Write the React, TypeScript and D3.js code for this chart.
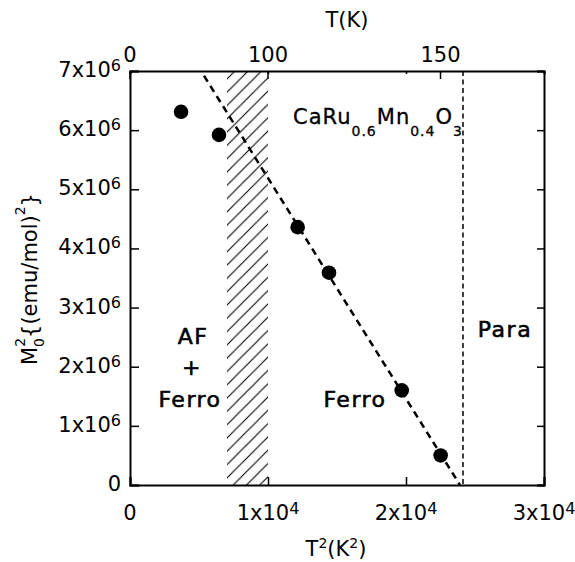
import * as d3 from "d3";
import { useEffect, useRef } from "react";

// M0^2 vs T^2 data points
const t2Values = [3700, 6450, 12150, 14420, 19690, 22510];
const m2Values = [6.31e6, 5.92e6, 4.36e6, 3.59e6, 1.6e6, 0.5e6];
// dashed fit line ends
const fitT2 = [5360, 23910];
const fitM2 = [6.92e6, 0];
// hatched AF+Ferro region and Tc line
const hatchT2 = [7030, 10000];
const paraT2 = 24130;

const xTicks = [0, 1e4, 2e4, 3e4];
const xTickLabels = ["0", "1x10^4", "2x10^4", "3x10^4"];
const yTicks = [0, 1e6, 2e6, 3e6, 4e6, 5e6, 6e6, 7e6];
const yTickLabels = ["0", "1x10^6", "2x10^6", "3x10^6", "4x10^6", "5x10^6", "6x10^6", "7x10^6"];
const tTicks = [0, 100, 150];
const tTickLabels = ["0", "100", "150"];

const FONT = "DejaVu Sans";

function supText(sel: d3.Selection<SVGTextElement, unknown, null, undefined>, str: string) {
  const [base, sup] = str.split("^");
  sel.append("tspan").text(base);
  if (sup) sel.append("tspan").attr("font-size", 16).attr("dy", -6).text(sup);
}

export default function App() {
  const svgRef = useRef<SVGSVGElement>(null);

  useEffect(() => {
    if (!svgRef.current) return;
    const svg = d3.select(svgRef.current);
    svg.selectAll("*").remove();

    const width = 575;
    const height = 562;
    const margin = { top: 71, right: 31, bottom: 77, left: 130 };
    const x = d3.scaleLinear().domain([0, 3e4]).range([margin.left, width - margin.right]);
    const y = d3.scaleLinear().domain([0, 7e6]).range([height - margin.bottom, margin.top]);
    const x0 = margin.left;
    const x1 = width - margin.right;
    const y0 = height - margin.bottom;
    const y1 = margin.top;

    // hatch pattern
    const w = 13.3;
    svg
      .append("defs")
      .append("pattern")
      .attr("id", "hatch")
      .attr("patternUnits", "userSpaceOnUse")
      .attr("width", w)
      .attr("height", w)
      .append("path")
      .attr("d", `M-2,2 L2,-2 M0,${w} L${w},0 M${w - 2},${w + 2} L${w + 2},${w - 2}`)
      .attr("stroke", "#000")
      .attr("stroke-width", 1.1);

    svg
      .append("rect")
      .attr("x", x(hatchT2[0]))
      .attr("y", y1)
      .attr("width", x(hatchT2[1]) - x(hatchT2[0]))
      .attr("height", y0 - y1)
      .attr("fill", "url(#hatch)");

    // Para boundary
    svg
      .append("line")
      .attr("x1", x(paraT2))
      .attr("x2", x(paraT2))
      .attr("y1", y1)
      .attr("y2", y0)
      .attr("stroke", "#000")
      .attr("stroke-width", 1.5)
      .attr("stroke-dasharray", "5,3.5");

    // fit line
    const line = d3
      .line<number>()
      .x((d) => x(fitT2[d]))
      .y((d) => y(fitM2[d]));
    svg
      .append("path")
      .attr("d", line([0, 1]))
      .attr("fill", "none")
      .attr("stroke", "#000")
      .attr("stroke-width", 2.5)
      .attr("stroke-dasharray", "7,5");

    // points
    svg
      .selectAll(".pt")
      .data(t2Values)
      .enter()
      .append("circle")
      .attr("cx", (d) => x(d))
      .attr("cy", (d, i) => y(m2Values[i]))
      .attr("r", 7.3)
      .attr("fill", "#000");

    // axes
    const axisG = svg.append("g").attr("font-family", FONT);
    const left = axisG
      .append("g")
      .attr("transform", `translate(${x0},0)`)
      .call(d3.axisLeft(y).tickValues(yTicks).tickSize(-9).tickFormat(() => ""));
    const right = axisG
      .append("g")
      .attr("transform", `translate(${x1},0)`)
      .call(d3.axisRight(y).tickValues(yTicks).tickSize(-7).tickFormat(() => ""));
    const bottom = axisG
      .append("g")
      .attr("transform", `translate(0,${y0})`)
      .call(d3.axisBottom(x).tickValues(xTicks).tickSize(-8).tickFormat(() => ""));
    const topMirror = axisG
      .append("g")
      .attr("transform", `translate(0,${y1})`)
      .call(d3.axisTop(x).tickValues(xTicks).tickSize(-3).tickFormat(() => ""));
    const tScale = (t: number) => x(t * t);
    const top = axisG.append("g").attr("transform", `translate(0,${y1})`);
    top
      .selectAll("line")
      .data(tTicks)
      .enter()
      .append("line")
      .attr("x1", (d) => tScale(d))
      .attr("x2", (d) => tScale(d))
      .attr("y1", 0)
      .attr("y2", 8)
      .attr("stroke", "#000")
      .attr("stroke-width", 1.5);

    [left, right, bottom, topMirror].forEach((g) => {
      g.select(".domain").attr("stroke-width", 2).attr("stroke", "#000");
      g.selectAll(".tick line").attr("stroke-width", 1.5);
      g.selectAll(".tick text").remove();
    });

    // tick labels
    yTicks.forEach((v, i) => {
      const t = axisG
        .append("text")
        .attr("x", x0 - 9)
        .attr("y", y(v) + 6)
        .attr("text-anchor", "end")
        .attr("font-size", 21);
      supText(t, yTickLabels[i]);
    });
    xTicks.forEach((v, i) => {
      const t = axisG
        .append("text")
        .attr("x", x(v))
        .attr("y", y0 + 35)
        .attr("text-anchor", "middle")
        .attr("font-size", 21);
      supText(t, xTickLabels[i]);
    });
    tTicks.forEach((v, i) => {
      axisG
        .append("text")
        .attr("x", tScale(v))
        .attr("y", y1 - 9)
        .attr("text-anchor", "middle")
        .attr("font-size", 21)
        .text(tTickLabels[i]);
    });

    // axis titles
    axisG
      .append("text")
      .attr("x", 347)
      .attr("y", 27)
      .attr("text-anchor", "middle")
      .attr("font-size", 21)
      .text("T(K)");

    const xt = axisG
      .append("text")
      .attr("x", 336)
      .attr("y", 556)
      .attr("text-anchor", "middle")
      .attr("font-size", 21);
    xt.append("tspan").text("T");
    xt.append("tspan").attr("font-size", 14).attr("dy", -8).text("2");
    xt.append("tspan").attr("dy", 8).text("(K");
    xt.append("tspan").attr("font-size", 14).attr("dy", -8).text("2");
    xt.append("tspan").attr("dy", 8).text(")");

    const yt = axisG
      .append("text")
      .attr("transform", "translate(37,279) rotate(-90)")
      .attr("text-anchor", "middle")
      .attr("font-size", 21);
    yt.append("tspan").text("M");
    yt.append("tspan").attr("font-size", 14).attr("dy", 7).text("0");
    yt.append("tspan").attr("font-size", 14).attr("dx", -8.9).attr("dy", -19).text("2");
    yt.append("tspan").attr("dy", 12).text("{(emu/mol)");
    yt.append("tspan").attr("font-size", 14).attr("dy", -12).text("2");
    yt.append("tspan").attr("dy", 12).text("}");

    // annotations (slightly heavier than tick labels)
    const note = svg
      .append("g")
      .attr("font-family", FONT)
      .attr("font-size", 22)
      .attr("letter-spacing", 1.5)
      .attr("stroke", "#000")
      .attr("stroke-width", 0.6);
    note.append("text").attr("x", 193).attr("y", 344).attr("text-anchor", "middle").text("AF");
    note.append("text").attr("x", 192).attr("y", 375).attr("text-anchor", "middle").text("+");
    note.append("text").attr("x", 190).attr("y", 407).attr("text-anchor", "middle").text("Ferro");
    note.append("text").attr("x", 355).attr("y", 407).attr("text-anchor", "middle").text("Ferro");
    note.append("text").attr("x", 505).attr("y", 337).attr("text-anchor", "middle").text("Para");

    const f = svg
      .append("text")
      .attr("x", 293)
      .attr("y", 124)
      .attr("font-family", FONT)
      .attr("font-size", 21)
      .attr("letter-spacing", 1)
      .attr("stroke", "#000")
      .attr("stroke-width", 0.3);
    f.append("tspan").text("CaRu");
    f.append("tspan").attr("font-size", 14).attr("dy", 12).text("0.6");
    f.append("tspan").attr("dy", -12).text("Mn");
    f.append("tspan").attr("font-size", 14).attr("dy", 12).text("0.4");
    f.append("tspan").attr("dy", -12).text("O");
    f.append("tspan").attr("font-size", 14).attr("dy", 12).text("3");
  }, []);

  return (
    <svg
      ref={svgRef}
      width={575}
      height={562}
      style={{ position: "absolute", left: 0, top: 0, background: "#fff" }}
    ></svg>
  );
}
